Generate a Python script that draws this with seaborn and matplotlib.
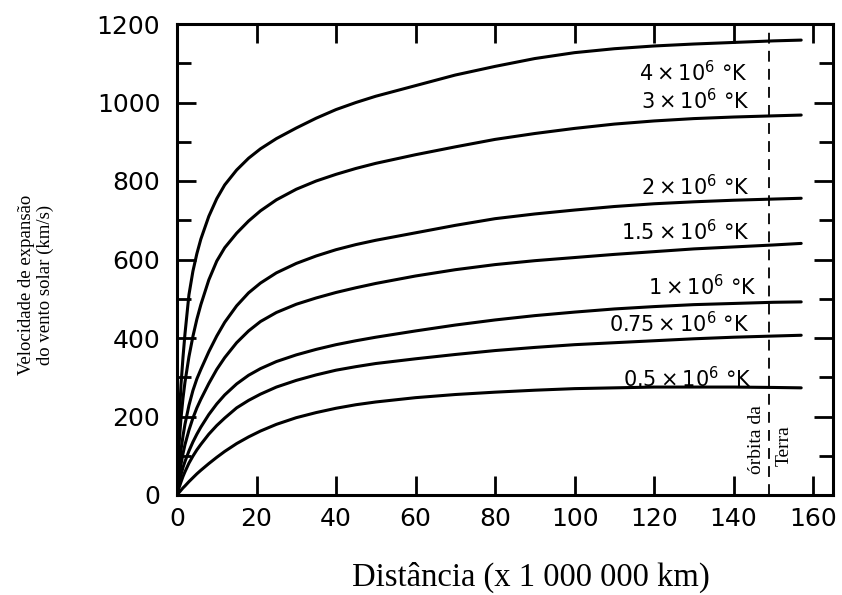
import matplotlib
matplotlib.use("Agg")
import matplotlib.pyplot as plt
import numpy as np
import pandas as pd
import seaborn as sns

# ---- data ----
distance = [0, 0.5, 1, 1.5, 2, 3, 4, 5, 6, 8, 10, 12, 15, 18, 21, 25, 30, 35, 40, 45,
            50, 60, 70, 80, 90, 100, 110, 120, 130, 140, 150, 157]
v_4e6 = [0, 180, 280, 350, 410, 510, 570, 615, 652, 710, 755, 790, 828, 858, 882, 908,
         935, 960, 982, 1000, 1016, 1043, 1070, 1092, 1112, 1127, 1137, 1144, 1149, 1153, 1157, 1159]
v_3e6 = [0, 128, 195, 246, 287, 352, 404, 448, 485, 548, 596, 630, 667, 698, 724, 752,
         779, 800, 817, 832, 845, 867, 887, 906, 921, 934, 945, 953, 959, 963, 966, 968]
v_2e6 = [0, 70, 115, 150, 180, 228, 266, 296, 320, 365, 405, 440, 482, 515, 540, 566,
         590, 609, 625, 638, 649, 668, 687, 704, 716, 726, 735, 742, 747, 751, 754, 756]
v_15e6 = [0, 45, 78, 105, 128, 165, 196, 222, 244, 284, 320, 350, 388, 418, 442, 465,
          486, 502, 516, 528, 539, 558, 574, 587, 597, 605, 613, 620, 627, 632, 637, 641]
v_1e6 = [0, 30, 52, 70, 85, 112, 135, 155, 173, 205, 232, 255, 283, 305, 322, 340,
         357, 371, 383, 393, 402, 418, 433, 446, 457, 466, 474, 480, 485, 488, 491, 492]
v_075e6 = [0, 18, 33, 47, 59, 81, 99, 115, 129, 155, 177, 196, 222, 241, 257, 275,
           292, 306, 318, 327, 335, 347, 358, 368, 376, 383, 388, 393, 398, 402, 405, 407]
v_05e6 = [0, 6, 12, 18, 23, 34, 44, 54, 63, 80, 96, 111, 131, 148, 163, 180,
          197, 210, 221, 230, 237, 248, 256, 262, 267, 271, 273, 275, 275, 275, 274, 273]

series_names = ["4", "3", "2", "1.5", "1", "0.75", "0.5"]
series_values = [v_4e6, v_3e6, v_2e6, v_15e6, v_1e6, v_075e6, v_05e6]
curve_labels = [r"$4\times10^{6}$ °K", r"$3\times10^{6}$ °K", r"$2\times10^{6}$ °K",
                r"$1.5\times10^{6}$ °K", r"$1\times10^{6}$ °K",
                r"$0.75\times10^{6}$ °K", r"$0.5\times10^{6}$ °K"]
label_pos_x = [143.6, 144.0, 144.0, 144.0, 145.8, 144.0, 144.6]
label_pos_y = [1075, 1006, 785, 671, 531, 437, 297]

earth_orbit = 149
x_ticks = [0, 20, 40, 60, 80, 100, 120, 140, 160]
y_ticks = [0, 200, 400, 600, 800, 1000, 1200]
y_minor = [100, 300, 500, 700, 900, 1100]

frames = []
for name, vals in zip(series_names, series_values):
    frames.append(pd.DataFrame({"dist": distance, "vel": vals, "T": name}))
df = pd.concat(frames, ignore_index=True)

sns.set_theme(style="white")
plt.rcParams["font.family"] = ["DejaVu Sans"]
plt.rcParams["mathtext.fontset"] = "dejavusans"

fig = plt.figure(figsize=(8.42, 5.95), dpi=100)
ax = fig.add_axes([177 / 842, 1 - 495 / 595, (833 - 177) / 842, (495 - 24) / 595])

sns.lineplot(data=df, x="dist", y="vel", hue="T", palette=["black"] * len(series_names),
             legend=False, linewidth=2.2, ax=ax, sort=True)

ax.set_xlim(0, 165)
ax.set_ylim(0, 1200)
ax.set_xticks(x_ticks)
ax.set_xticklabels([str(t) for t in x_ticks])
ax.set_yticks(y_ticks)
ax.set_yticklabels([str(t) for t in y_ticks])
ax.set_yticks(y_minor, minor=True)
ax.tick_params(axis="both", which="both", direction="in", top=True, right=True,
               bottom=True, left=True, color="black", width=2)
ax.tick_params(axis="both", which="major", length=14, labelsize=18, labelcolor="black")
ax.tick_params(axis="y", which="major", pad=12)
ax.tick_params(axis="x", which="major", pad=9)
ax.tick_params(axis="y", which="minor", length=10)
for sp in ax.spines.values():
    sp.set_color("black")
    sp.set_linewidth(2.2)
    sp.set_visible(True)

ax.set_xlabel("")
ax.set_ylabel("")

ax.axvline(earth_orbit, color="black", linewidth=1.3, dashes=(6, 4))

for txt, lx, ly in zip(curve_labels, label_pos_x, label_pos_y):
    ax.text(lx, ly, txt, ha="right", va="center", fontsize=15, color="black")

ax.text(earth_orbit - 1.0, 140, "órbita da", rotation=90, ha="right", va="center",
        fontsize=14, family="Liberation Serif", color="black")
ax.text(earth_orbit + 1.6, 127, "Terra", rotation=90, ha="left", va="center",
        fontsize=14, family="Liberation Serif", color="black")

fig.text(531 / 842, 1 - 577 / 595, "Distância (x 1 000 000 km)", ha="center", va="center",
         fontsize=23.5, family="Liberation Serif", color="black")
fig.text(36 / 842, 1 - 285 / 595, "Velocidade de expansão\ndo vento solar (km/s)",
         rotation=90, ha="center", va="center", fontsize=13.5,
         family="Liberation Serif", color="black", multialignment="center")

fig.savefig("out.png", dpi=100)
